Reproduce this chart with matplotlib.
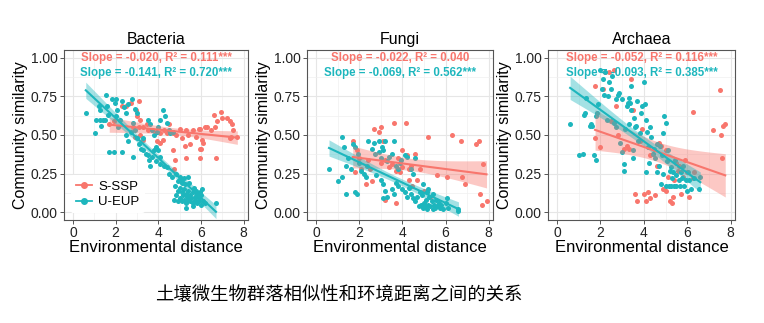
import numpy as np
import matplotlib
matplotlib.use("Agg")
import matplotlib.pyplot as plt
from matplotlib.lines import Line2D
from matplotlib.ticker import MultipleLocator

plt.rcParams['font.family'] = ['Liberation Sans', 'DejaVu Sans']

RED = '#F8766D'
TEAL = '#1DB6BD'

panels = ['Bacteria', 'Fungi', 'Archaea']
series_names = ['S-SSP', 'U-EUP']

# ---------------- Bacteria ----------------
bac_teal = [
    (0.6,0.64),(1.02,0.51),(1.1,0.60),(1.2,0.69),(1.25,0.66),(1.25,0.60),(1.33,0.56),(1.4,0.60),(1.5,0.60),
    (1.57,0.76),(1.6,0.69),(1.65,0.63),(1.7,0.39),(1.9,0.39),(1.85,0.73),(1.95,0.71),(2.0,0.73),(2.05,0.66),
    (2.0,0.62),(2.1,0.55),(2.2,0.60),(2.3,0.72),(2.4,0.68),(2.5,0.64),(2.6,0.70),(2.75,0.73),(2.9,0.67),
    (3.0,0.64),(2.8,0.58),(2.7,0.52),(2.5,0.50),(2.6,0.46),(2.9,0.53),(3.0,0.48),(3.1,0.44),(3.2,0.41),
    (3.3,0.40),(3.4,0.38),(3.5,0.37),(3.55,0.34),(3.6,0.30),(3.7,0.36),(3.8,0.40),(3.9,0.42),(4.0,0.40),
    (4.1,0.36),(4.2,0.66),(4.3,0.62),(4.1,0.60),(4.0,0.55),(3.95,0.52),(3.8,0.50),(3.7,0.53),(3.6,0.57),
    (3.5,0.60),(4.4,0.58),(4.55,0.51),(4.5,0.53),(4.7,0.52),(3.9,0.33),(4.1,0.31),(4.25,0.30),(4.4,0.29),
    (4.5,0.25),(4.65,0.23),(4.85,0.25),(5.0,0.23),(4.9,0.20),(5.1,0.19),(5.4,0.23),(5.2,0.22),(3.3,0.48),
    (2.8,0.36),(2.3,0.39),
    (4.8,0.17),(4.9,0.14),(5.0,0.16),(5.1,0.13),(5.2,0.15),(5.3,0.12),(5.4,0.14),(5.5,0.11),(5.6,0.13),
    (5.7,0.10),(5.8,0.12),(5.9,0.09),(6.0,0.11),(6.1,0.07),(4.75,0.08),(4.9,0.07),(5.0,0.09),(5.1,0.07),
    (5.2,0.08),(5.3,0.06),(5.4,0.08),(5.5,0.07),(5.6,0.06),(5.7,0.08),(5.8,0.06),(5.9,0.07),(6.0,0.05),
    (6.2,0.06),(6.7,0.06),(5.05,0.20),(5.25,0.18),(5.45,0.19),(5.15,0.11),(5.35,0.10),(5.55,0.09),
    (5.75,0.14),(5.95,0.13),(5.3,0.03),(5.6,0.04),(4.85,0.11),(5.65,0.16),(6.05,0.15),
]
bac_red = [
    (1.7,0.57),(1.9,0.59),(2.3,0.69),(2.5,0.69),(2.7,0.71),(3.1,0.72),(2.95,0.66),(3.0,0.62),(3.15,0.60),
    (2.8,0.55),(3.1,0.55),(3.3,0.55),(3.45,0.57),(2.9,0.49),(3.15,0.50),(3.3,0.47),(3.5,0.53),(3.7,0.53),
    (3.9,0.52),(4.1,0.51),(4.25,0.53),(4.5,0.57),(4.7,0.51),(4.85,0.50),(5.0,0.54),(5.1,0.48),(5.25,0.43),
    (4.7,0.40),(4.8,0.34),(4.1,0.45),(3.95,0.46),(4.4,0.51),(5.3,0.53),(5.4,0.50),(5.6,0.53),(5.75,0.49),
    (5.9,0.54),(5.95,0.54),(6.05,0.47),(6.1,0.45),(5.95,0.41),(6.0,0.41),(6.2,0.55),(6.3,0.55),(6.45,0.53),
    (6.6,0.63),(6.75,0.59),(6.95,0.65),(7.0,0.61),(6.65,0.55),(7.2,0.61),(7.35,0.59),(7.45,0.57),(7.5,0.53),
    (7.4,0.49),(7.35,0.48),(6.7,0.35),(5.95,0.35),(5.3,0.35),(4.75,0.28),(4.2,0.47),(5.5,0.44),(7.7,0.49),
]

# ---------------- Fungi ----------------
fun_teal = [
    (0.6,0.28),(1.0,0.20),(1.2,0.49),(1.2,0.23),(1.3,0.42),(1.4,0.30),(1.4,0.12),(1.5,0.35),(1.6,0.28),
    (1.7,0.44),(1.8,0.42),(1.8,0.13),(1.9,0.12),(1.95,0.38),(2.0,0.32),(2.1,0.27),(2.2,0.25),(2.3,0.23),
    (2.35,0.30),(2.4,0.46),(2.6,0.41),(2.7,0.45),(2.75,0.38),(2.9,0.39),(2.9,0.46),(3.0,0.35),(3.05,0.42),
    (3.1,0.40),(3.2,0.46),(3.3,0.33),(3.4,0.36),(3.5,0.38),(3.6,0.46),(3.7,0.30),(3.8,0.28),(3.9,0.32),
    (3.95,0.34),(4.1,0.37),(4.2,0.36),(4.4,0.28),(4.5,0.25),(4.6,0.35),(2.8,0.24),(3.0,0.21),(3.1,0.18),
    (3.2,0.14),(3.3,0.10),(3.1,0.09),(3.5,0.15),(3.6,0.12),(3.7,0.19),(3.8,0.17),(4.0,0.15),(4.1,0.13),
    (4.2,0.10),(4.3,0.16),(4.4,0.12),(4.5,0.09),(4.6,0.07),(4.7,0.10),(4.8,0.13),(4.9,0.11),(5.0,0.06),
    (4.75,0.04),(4.85,0.05),(4.95,0.03),(5.05,0.04),(5.1,0.08),(5.15,0.02),(5.2,0.05),(5.25,0.10),(5.3,0.04),
    (5.35,0.07),(5.4,0.02),(5.45,0.05),(5.5,0.03),(5.55,0.08),(5.6,0.04),(5.7,0.06),(5.75,0.03),(5.8,0.05),
    (5.9,0.02),(6.0,0.06),(6.05,0.09),(6.1,0.03),(5.2,0.15),(5.4,0.12),(6.6,0.02),(6.6,0.01),(4.95,0.18),
    (5.15,0.13),
]
fun_red = [
    (1.7,0.46),(1.9,0.40),(1.8,0.26),(2.0,0.35),(2.1,0.28),(2.4,0.34),(2.5,0.28),(2.6,0.20),(2.7,0.54),
    (2.9,0.52),(3.0,0.55),(3.1,0.46),(3.2,0.34),(3.2,0.08),(3.4,0.29),(3.5,0.31),(3.6,0.58),(3.7,0.27),
    (3.8,0.35),(3.9,0.26),(4.0,0.40),(4.15,0.58),(4.2,0.37),(4.3,0.28),(4.4,0.30),(4.45,0.17),(4.6,0.38),
    (4.7,0.21),(4.8,0.28),(5.0,0.14),(5.2,0.49),(5.3,0.10),(5.6,0.24),(6.05,0.23),(6.3,0.50),(6.7,0.46),
    (6.75,0.23),(6.9,0.18),(7.4,0.44),(7.55,0.46),(7.6,0.12),(7.7,0.05),(7.75,0.31),(7.9,0.07),(3.7,0.06),
    (4.3,0.21),(2.3,0.18),(4.0,0.29),(3.0,0.32),
]

# ---------------- Archaea ----------------
arc_teal = [
    (0.6,0.57),(1.0,0.37),(1.2,0.38),(1.25,0.63),(1.3,0.64),(1.35,0.74),(1.5,0.56),(1.55,0.57),(1.6,0.56),
    (1.7,0.37),(1.8,0.62),(1.8,0.34),(1.85,0.64),(1.9,0.70),(2.0,0.92),(2.05,0.80),(2.1,0.86),(2.15,0.76),
    (2.2,0.91),(2.3,0.60),(2.35,0.75),(2.4,0.84),(2.5,0.80),(2.55,0.88),(2.6,0.58),(2.7,0.73),(2.8,0.76),
    (2.85,0.77),(2.9,0.45),(3.0,0.73),(3.0,0.39),(3.1,0.31),(3.1,0.27),(3.15,0.54),(3.2,0.69),(3.25,0.71),
    (3.3,0.74),(3.35,0.71),(3.4,0.66),(3.4,0.82),(3.5,0.35),(3.5,0.40),(3.55,0.61),(3.6,0.55),(3.65,0.56),
    (3.7,0.72),(3.75,0.46),(3.8,0.51),(3.85,0.64),(3.9,0.69),(4.0,0.84),(4.05,0.70),(4.1,0.60),(4.15,0.52),
    (4.2,0.42),(4.25,0.32),(4.3,0.55),(4.35,0.49),(4.4,0.38),(4.45,0.41),(4.5,0.35),(4.6,0.44),(4.6,0.26),
    (4.7,0.30),(4.75,0.43),(4.8,0.18),(4.85,0.37),(4.9,0.51),(4.95,0.62),(5.0,0.58),(5.05,0.33),(5.1,0.40),
    (5.2,0.27),(5.25,0.29),(5.3,0.22),(5.35,0.26),(5.4,0.17),(5.45,0.34),(5.5,0.24),(5.6,0.21),(5.65,0.17),
    (5.7,0.26),(5.75,0.22),(5.8,0.30),(5.85,0.17),(5.95,0.21),(6.0,0.14),(6.05,0.26),(6.1,0.21),(6.15,0.15),
    (6.3,0.22),(6.55,0.15),(6.6,0.23),(5.0,0.17),(5.15,0.17),(5.25,0.17),(4.1,0.26),(3.3,0.57),(2.7,0.55),
    (4.9,0.25),(5.5,0.17),
]
arc_red = [
    (1.75,0.48),(1.75,0.82),(2.0,0.42),(2.1,0.80),(2.2,0.91),(2.4,0.91),(2.6,0.92),(2.8,0.50),(2.7,0.69),
    (3.2,0.43),(3.3,0.41),(3.4,0.86),(3.5,0.66),(3.6,0.12),(3.7,0.07),(3.9,0.54),(4.0,0.12),(4.1,0.07),
    (4.2,0.13),(4.3,0.09),(4.4,0.38),(4.5,0.11),(4.6,0.30),(4.8,0.43),(4.9,0.15),(5.0,0.14),(5.1,0.23),
    (5.2,0.07),(5.3,0.06),(5.35,0.10),(5.4,0.21),(5.5,0.32),(5.55,0.27),(5.6,0.30),(5.8,0.23),(5.9,0.34),
    (6.1,0.10),(6.25,0.65),(6.25,0.22),(6.3,0.26),(7.2,0.53),(7.5,0.79),(7.55,0.50),(7.65,0.56),(7.75,0.57),
    (7.6,0.35),(4.7,0.45),(3.1,0.41),(2.5,0.59),(5.0,0.40),(4.3,0.37),(3.8,0.46),(6.0,0.26),(5.7,0.12),
]

stats_red = ['Slope = -0.020, R\u00b2 = 0.111***',
             'Slope = -0.022, R\u00b2 = 0.040',
             'Slope = -0.052, R\u00b2 = 0.116***']
stats_teal = ['Slope = -0.141, R\u00b2 = 0.720***',
              'Slope = -0.069, R\u00b2 = 0.562***',
              'Slope = -0.093, R\u00b2 = 0.385***']

data = [(bac_red, bac_teal), (fun_red, fun_teal), (arc_red, arc_teal)]

xticks = [0, 2, 4, 6, 8]
yticks = [0.00, 0.25, 0.50, 0.75, 1.00]
xlabel = 'Environmental distance'
ylabel = 'Community similarity'
suptitle = '土壤微生物群落相似性和环境距离之间的关系'

fig = plt.figure(figsize=(7.64, 3.23), dpi=100)

lefts = [64/764, 307/764, 548/764]
widths = [184/764, 186/764, 187/764]
bottom = 1 - 220/323
height = 170/323


def fit_band(x, y, xs):
    x = np.asarray(x); y = np.asarray(y)
    n = len(x)
    b, a = np.polyfit(x, y, 1)
    yhat = a + b * x
    s = np.sqrt(np.sum((y - yhat) ** 2) / (n - 2))
    xm = x.mean(); sxx = np.sum((x - xm) ** 2)
    se = s * np.sqrt(1 / n + (xs - xm) ** 2 / sxx)
    t = 1.98
    ys = a + b * xs
    return ys, ys - t * se, ys + t * se


for i, name in enumerate(panels):
    ax = fig.add_axes([lefts[i], bottom, widths[i], height])
    ax.set_xlim(-0.42, 8.2)
    ax.set_ylim(-0.05, 1.05)
    ax.xaxis.set_major_locator(MultipleLocator(2))
    ax.xaxis.set_minor_locator(MultipleLocator(1))
    ax.yaxis.set_major_locator(MultipleLocator(0.25))
    ax.yaxis.set_minor_locator(MultipleLocator(0.125))
    ax.set_xticks(xticks)
    ax.set_yticks(yticks)
    ax.set_yticklabels([f'{v:.2f}' for v in yticks])
    ax.grid(which='major', color='#E6E6E6', lw=0.8)
    ax.grid(which='minor', color='#F0F0F0', lw=0.5)
    ax.set_axisbelow(True)
    for sp in ax.spines.values():
        sp.set_color('#555555'); sp.set_linewidth(0.8)
    ax.tick_params(which='major', length=3, width=0.7, color='#555555', labelsize=10,
                   labelcolor='#222222', pad=1.5)
    ax.tick_params(which='minor', length=0)
    ax.set_title(name, fontsize=11.5, pad=4)
    ax.set_xlabel(xlabel, fontsize=12, labelpad=0)
    ax.set_ylabel(ylabel, fontsize=11.5, labelpad=2)

    red, teal = data[i]
    for pts, col in ((red, RED), (teal, TEAL)):
        x = [p[0] for p in pts]; y = [p[1] for p in pts]
        ax.scatter(x, y, s=13, color=col, lw=0, zorder=2)
    for pts, col in ((red, RED), (teal, TEAL)):
        x = [p[0] for p in pts]; y = [p[1] for p in pts]
        xs = np.linspace(min(x), max(x), 80)
        ys, lo, hi = fit_band(x, y, xs)
        ax.fill_between(xs, lo, hi, color=col, alpha=0.4, lw=0, zorder=3)
        ax.plot(xs, ys, color=col, lw=1.5, zorder=4)

    ax.text(0.5, 0.955, stats_red[i], transform=ax.transAxes, ha='center', va='center',
            color=RED, fontsize=8.3, fontweight='bold', zorder=5)
    ax.text(0.5, 0.865, stats_teal[i], transform=ax.transAxes, ha='center', va='center',
            color=TEAL, fontsize=8.3, fontweight='bold', zorder=5)

    if i == 0:
        handles = [Line2D([0], [0], color=RED, marker='o', ms=4, lw=1.3),
                   Line2D([0], [0], color=TEAL, marker='o', ms=4, lw=1.3)]
        ax.legend(handles, series_names, loc='lower left', bbox_to_anchor=(0.0, 0.0),
                  fontsize=9.5, frameon=True, facecolor='white', edgecolor='none', framealpha=1,
                  handlelength=1.2, handletextpad=0.5, labelspacing=0.25, borderpad=0.4)

fig.text(339/764, 1 - 295/323, suptitle, ha='center', va='center', fontsize=13.2,
         family=['Noto Sans CJK SC', 'DejaVu Sans'])

fig.savefig('out.png', dpi=100)
